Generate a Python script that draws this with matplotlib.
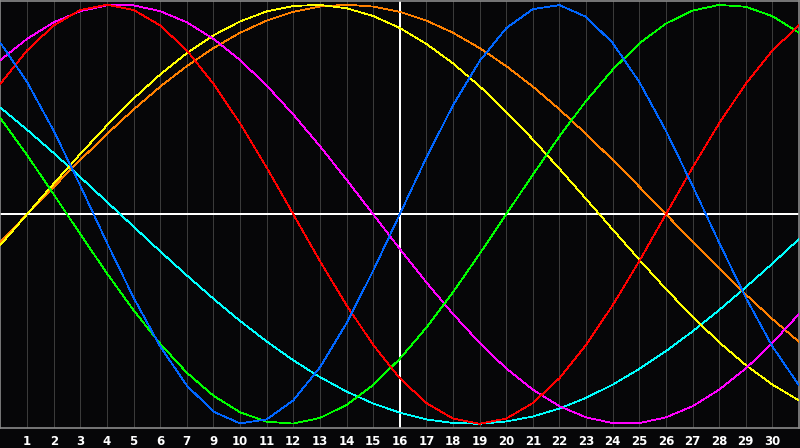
import matplotlib
matplotlib.use("Agg")
import matplotlib.pyplot as plt

# day labels under the grid lines (the date 8 is skipped in the original)
day_labels = [1, 2, 3, 4, 5, 6, 7, 9, 10, 11, 12, 13, 14, 15, 16, 17, 18, 19,
              20, 21, 22, 23, 24, 25, 26, 27, 28, 29, 30]
today_index = 15

# one value per day slot 0..30 (-1 .. 1)
blue = [0.817, 0.631, 0.398, 0.136, -0.136, -0.398, -0.631, -0.817, -0.942, -0.998,
        -0.979, -0.888, -0.731, -0.520, -0.270, 0.0, 0.270, 0.520, 0.731, 0.888,
        0.979, 0.998, 0.942, 0.817, 0.631, 0.398, 0.136, -0.136, -0.398, -0.631, -0.817]
red = [0.623, 0.782, 0.901, 0.975, 1.0, 0.975, 0.901, 0.782, 0.623, 0.434,
       0.223, 0.0, -0.223, -0.434, -0.623, -0.782, -0.901, -0.975, -1.0, -0.975,
       -0.901, -0.782, -0.623, -0.434, -0.223, 0.0, 0.223, 0.434, 0.623, 0.782, 0.901]
green = [0.458, 0.282, 0.095, -0.095, -0.282, -0.458, -0.618, -0.756, -0.866, -0.945,
         -0.990, -0.999, -0.972, -0.910, -0.815, -0.690, -0.541, -0.372, -0.189, 0.0,
         0.189, 0.372, 0.541, 0.690, 0.815, 0.910, 0.972, 0.999, 0.990, 0.945, 0.866]
magenta = [0.736, 0.837, 0.916, 0.969, 0.997, 0.997, 0.969, 0.916, 0.837, 0.736,
           0.614, 0.476, 0.325, 0.165, 0.0, -0.165, -0.325, -0.476, -0.614, -0.736,
           -0.837, -0.916, -0.969, -0.997, -0.997, -0.969, -0.916, -0.837, -0.736, -0.614, -0.476]
yellow = [-0.146, 0.0, 0.146, 0.288, 0.424, 0.552, 0.667, 0.769, 0.854, 0.920,
          0.968, 0.994, 0.999, 0.983, 0.946, 0.889, 0.813, 0.720, 0.611, 0.489,
          0.357, 0.217, 0.073, -0.073, -0.217, -0.357, -0.489, -0.611, -0.720, -0.813, -0.889]
orange = [-0.131, 0.0, 0.131, 0.259, 0.383, 0.5, 0.609, 0.707, 0.793, 0.866,
          0.924, 0.966, 0.991, 1.0, 0.991, 0.966, 0.924, 0.866, 0.793, 0.707,
          0.609, 0.5, 0.383, 0.259, 0.131, 0.0, -0.131, -0.259, -0.383, -0.5, -0.609]
cyan = [0.509, 0.403, 0.292, 0.177, 0.059, -0.059, -0.177, -0.292, -0.403, -0.509,
        -0.607, -0.697, -0.777, -0.846, -0.903, -0.947, -0.979, -0.996, -1.0, -0.989,
        -0.965, -0.927, -0.876, -0.813, -0.738, -0.653, -0.559, -0.457, -0.348, -0.235, -0.118]

series = [(cyan, '#00ffff'), (orange, '#ff8000'), (yellow, '#ffff00'),
          (magenta, '#ff00ff'), (green, '#00ff00'), (red, '#ff0000'), (blue, '#0066ff')]

bg = '#060608'
fig = plt.figure(figsize=(8, 4.48), dpi=100, facecolor=bg)
ax = fig.add_axes([0.0006, 20 / 448, 0.9982, 427.5 / 448])
ax.set_facecolor(bg)

days = list(range(len(blue)))
ax.set_xlim(0, 30)
ax.set_ylim(-1.02, 1.02)

for x in range(1, 30):
    ax.axvline(x, color='#3a3a3a', lw=0.6, antialiased=False, zorder=1)
ax.axvline(today_index, color='white', lw=1.2, antialiased=False, zorder=2)
ax.axhline(0, color='white', lw=1.2, antialiased=False, zorder=2)

for vals, col in series:
    ax.plot(days, vals, color=col, lw=0.55, antialiased=False, zorder=3)

for s in ax.spines.values():
    s.set_color('#8a8a8a')
    s.set_linewidth(1.2)

ax.set_yticks([])
ax.set_xticks(range(1, 30))
ax.set_xticklabels([str(d) for d in day_labels], color='white',
                   fontsize=8.5, fontweight='bold', family='DejaVu Sans')
ax.tick_params(axis='x', length=0, pad=5)

fig.savefig('out.png', dpi=100, facecolor=bg)
